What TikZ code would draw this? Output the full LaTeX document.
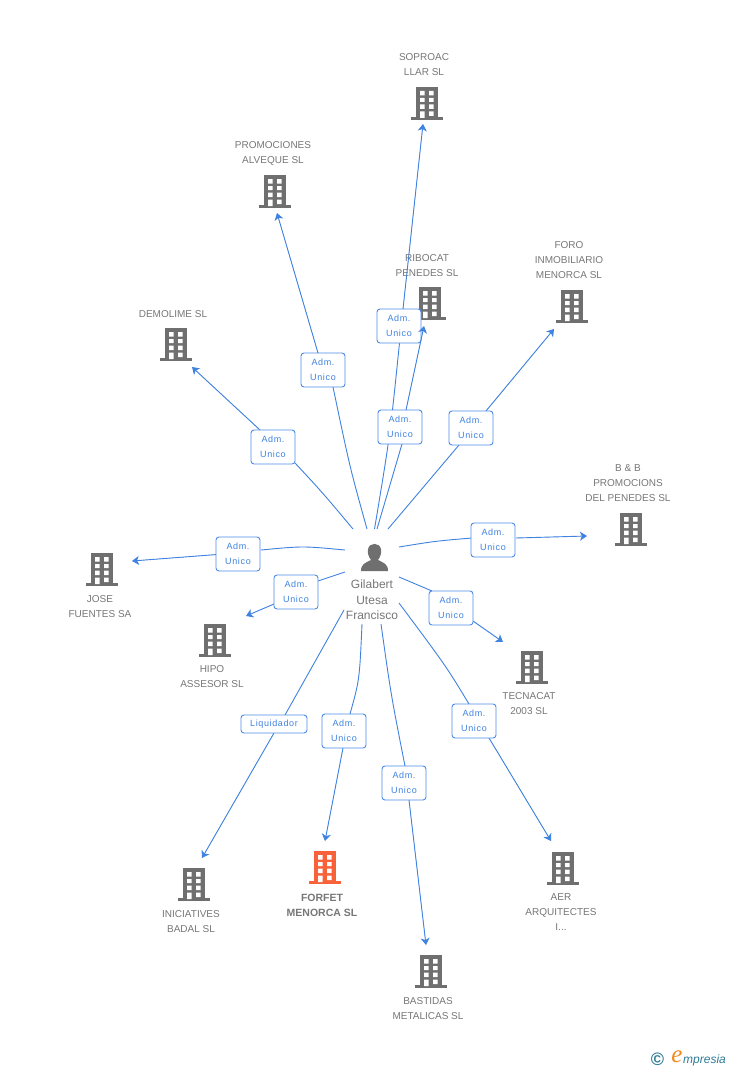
\documentclass[tikz,border=0pt]{standalone}
\usepackage{fontspec}
\setmainfont{Liberation Sans}
\newfontfamily\boxfont[LetterSpace=7]{Liberation Sans}
\newfontfamily\logofont{Liberation Serif}
\usetikzlibrary{arrows.meta,backgrounds}
\definecolor{linkblue}{HTML}{3F82E0}
\definecolor{boxblue}{HTML}{4C8CE6}
\definecolor{bldgrey}{HTML}{6F6F6F}
\definecolor{txtgrey}{HTML}{777777}
\definecolor{forfet}{HTML}{F8623A}
\definecolor{logoteal}{HTML}{2F7C96}
\definecolor{logoorange}{HTML}{F08A1D}
\tikzset{
  x=1pt,y=-1pt,
  conn/.style={draw=linkblue,fill=linkblue,line width=0.9pt,-{Stealth[length=7pt,width=9pt,inset=2pt]}},
  plainconn/.style={draw=linkblue,line width=0.9pt},
  role/.style={draw=boxblue,fill=white,rounded corners=3pt,line width=0.9pt,text=linkblue,
    font=\boxfont\fontsize{9}{15}\selectfont,align=center,inner sep=0pt,minimum width=44pt,minimum height=34pt},
  rolewide/.style={role,minimum width=66pt,minimum height=18pt},
  orgname/.style={text=txtgrey,font=\fontsize{10}{15}\selectfont,align=center,inner sep=0pt},
  boldname/.style={orgname,font=\fontsize{10.5}{15}\selectfont\bfseries},
  bigname/.style={orgname,font=\fontsize{12}{15.5}\selectfont},
  bld/.pic={
    \fill[pic actions] (-11,0) rectangle (11,30);
    \fill[pic actions] (-16,30) rectangle (16,33);
    \fill[white] (-7,4) rectangle (-2.5,8.5) (2,4) rectangle (6.5,8.5)
                 (-7,11) rectangle (-2.5,15) (2,11) rectangle (6.5,15)
                 (-7,17.5) rectangle (-2.5,22) (2,17.5) rectangle (6.5,22)
                 (-7,24.5) rectangle (-2.5,31) (2,24.5) rectangle (6.5,29);
  },
}
% \edgeends{n}{dx,dy toward person}{dx,dy toward company}: where connector n meets box r<n>
\newcommand\edgeends[3]{%
  \coordinate (a#1) at ([shift={(#2)}]r#1.center);
  \coordinate (b#1) at ([shift={(#3)}]r#1.center);}
\begin{document}
\begin{tikzpicture}
\useasboundingbox (0,0) rectangle (728,1070);
\begin{scope}[on background layer]
  \fill[white] (0,0) rectangle (728,1070);
\end{scope}

% buildings
\pic[fill=bldgrey] at (427,87) {bld};
\pic[fill=bldgrey] at (275,175) {bld};
\pic[fill=bldgrey] at (430,287) {bld};
\pic[fill=bldgrey] at (572,290) {bld};
\pic[fill=bldgrey] at (176,328) {bld};
\pic[fill=bldgrey] at (631,513) {bld};
\pic[fill=bldgrey] at (102,553) {bld};
\pic[fill=bldgrey] at (215,624) {bld};
\pic[fill=bldgrey] at (532,651) {bld};
\pic[fill=bldgrey] at (563,852) {bld};
\pic[fill=bldgrey] at (431,955) {bld};
\pic[fill=forfet] at (325,851) {bld};
\pic[fill=bldgrey] at (194,868) {bld};

% person
\fill[bldgrey] (361,571) .. controls (361,564) and (365,563) .. (371,560)
  .. controls (368,556) and (367.5,552) .. (368,549.5)
  .. controls (369,542) and (380,542) .. (381,549.5)
  .. controls (381.5,552) and (381,556) .. (378,560)
  .. controls (384,563) and (388,564) .. (388,571) -- cycle;

% names
\node[orgname] (t1) at (424,65) {SOPROAC\\LLAR SL};
\node[orgname] (t2) at (273,153) {PROMOCIONES\\ALVEQUE SL};
\node[orgname] (t3) at (427,266) {RIBOCAT\\PENEDES SL};
\node[orgname] (t4) at (569,260) {FORO\\INMOBILIARIO\\MENORCA SL};
\node[orgname] (t5) at (173,314) {DEMOLIME SL};
\node[orgname] (t6) at (628,483) {B \& B\\PROMOCIONS\\DEL PENEDES SL};
\node[orgname] (t7) at (100,607) {JOSE\\FUENTES SA};
\node[orgname] (t8) at (212,677) {HIPO\\ASSESOR SL};
\node[orgname] (t9) at (529,704) {TECNACAT\\2003 SL};
\node[orgname] (t10) at (561,912) {AER\\ARQUITECTES\\I...};
\node[orgname] (t11) at (428,1009) {BASTIDAS\\METALICAS SL};
\node[boldname] (t12) at (322,905) {FORFET\\MENORCA SL};
\node[orgname] (t13) at (191,922) {INICIATIVES\\BADAL SL};
\node[bigname] (person) at (372,600) {Gilabert\\Utesa\\Francisco};

% role boxes
\node[role] (r1) at (399,326) {Adm.\\Unico};
\node[role] (r2) at (323,370) {Adm.\\Unico};
\node[role] (r3) at (400,427) {Adm.\\Unico};
\node[role] (r4) at (273,447) {Adm.\\Unico};
\node[role] (r5) at (471,428) {Adm.\\Unico};
\node[role] (r6) at (493,540) {Adm.\\Unico};
\node[role] (r7) at (238,554) {Adm.\\Unico};
\node[role] (r8) at (296,592) {Adm.\\Unico};
\node[role] (r9) at (451,608) {Adm.\\Unico};
\node[role] (r10) at (474,721) {Adm.\\Unico};
\node[role] (r11) at (404,783) {Adm.\\Unico};
\node[role] (r12) at (344,731) {Adm.\\Unico};
\node[rolewide] (r13) at (274,724) {Liquidador};

% where connectors meet the boxes
\edgeends{1}{0.5,17}{4,-17}
\edgeends{2}{10,17}{-5,-17}
\edgeends{3}{2,17}{6,-17}
\edgeends{4}{22,16}{-13,-17}
\edgeends{5}{-12,17}{15,-17}
\edgeends{6}{-21,-2}{23,-2}
\edgeends{7}{23,-4}{-21,0.5}
\edgeends{8}{22,-11}{-22,12}
\edgeends{9}{-19,-17}{22,13}
\edgeends{10}{-5,-17}{15,17}
\edgeends{11}{1,-17}{5,17}
\edgeends{12}{6,-17}{-1,17}
\edgeends{13}{11,-9}{0,9}

% free ends (s: near the person, c: control point of the bend, e: arrow tip)
\coordinate (s1) at (374.5,529); \coordinate (c1) at (390,436);  \coordinate (e1) at (423,124);
\coordinate (s2) at (367,529);   \coordinate (c2) at (350,468);  \coordinate (e2) at (277,213);
\coordinate (s3) at (377,529);   \coordinate (e3) at (424,326);
\coordinate (s4) at (353,529);   \coordinate (c4) at (322,492);  \coordinate (e4) at (192,367);
\coordinate (s5) at (388,529);   \coordinate (e5) at (554,329);
\coordinate (s6) at (399,547);   \coordinate (c6) at (436,541);  \coordinate (e6) at (587,536);
\coordinate (s7) at (345,550);   \coordinate (c7) at (303,546);  \coordinate (e7) at (132,561);
\coordinate (s8) at (345,572);   \coordinate (e8) at (246,616);
\coordinate (s9) at (399,577);   \coordinate (e9) at (503,642);
\coordinate (s10) at (399,603);  \coordinate (c10) at (446,666); \coordinate (e10) at (551,841);
\coordinate (s11) at (381,624);  \coordinate (c11) at (391,695); \coordinate (e11) at (426,945);
\coordinate (s12) at (362,624);  \coordinate (c12) at (359.5,680); \coordinate (e12) at (325,841);
\coordinate (s13) at (344,610);  \coordinate (e13) at (202,858);

\begin{scope}[on background layer]
  \draw[plainconn] (s1) .. controls (c1) .. (a1);
  \draw[conn] (b1) -- (e1);
  \draw[plainconn] (s2) .. controls (c2) .. (a2);
  \draw[conn] (b2) -- (e2);
  \draw[plainconn] (s3) -- (a3);
  \draw[plainconn] (s4) .. controls (c4) .. (a4);
  \draw[conn] (b4) -- (e4);
  \draw[plainconn] (s5) -- (a5);
  \draw[conn] (b5) -- (e5);
  \draw[plainconn] (s6) .. controls (c6) .. (a6);
  \draw[conn] (b6) -- (e6);
  \draw[plainconn] (s7) .. controls (c7) .. (a7);
  \draw[conn] (b7) -- (e7);
  \draw[plainconn] (s8) -- (a8);
  \draw[conn] (b8) -- (e8);
  \draw[plainconn] (s9) -- (a9);
  \draw[conn] (b9) -- (e9);
  \draw[plainconn] (s10) .. controls (c10) .. (a10);
  \draw[conn] (b10) -- (e10);
  \draw[plainconn] (s11) .. controls (c11) .. (a11);
  \draw[conn] (b11) -- (e11);
  \draw[plainconn] (s12) .. controls (c12) .. (a12);
  \draw[conn] (b12) -- (e12);
  \draw[plainconn] (s13) -- (a13);
  \draw[conn] (b13) -- (e13);
\end{scope}
\draw[conn] (b3) -- (e3);

% logo
\node[text=logoteal,font=\fontsize{18}{18}\selectfont\bfseries,inner sep=0pt] (logoa) at (657.5,1059) {©};
\node[text=logoorange,font=\logofont\itshape\fontsize{25}{25}\selectfont,inner sep=0pt] (logob) at (677,1057) {e};
\node[text=logoteal,font=\itshape\fontsize{12}{14}\selectfont,inner sep=0pt,anchor=west] (logoc) at (683,1060) {mpresia};
\end{tikzpicture}
\end{document}
